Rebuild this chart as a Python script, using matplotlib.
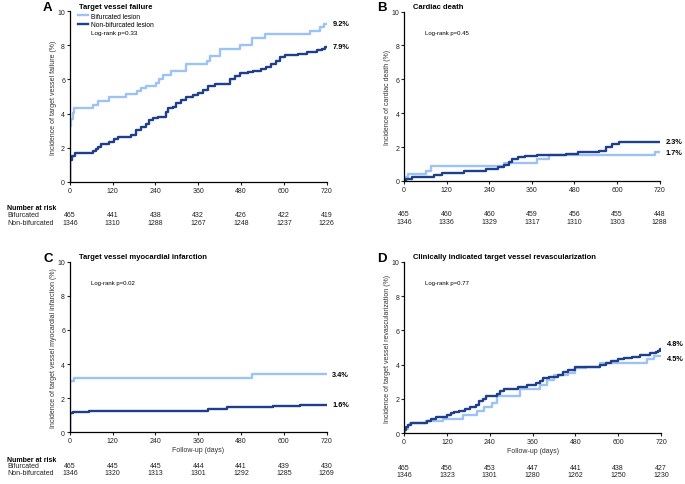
import numpy as np
import matplotlib.pyplot as plt

plt.rcParams['font.family'] = ['Liberation Sans', 'DejaVu Sans']

LIGHT = '#9cc3f5'
DARK = '#1f3f8a'

xticks = [0, 120, 240, 360, 480, 600, 720]

# panel A - target vessel failure
a_bif_t = [0, 0.5, 3, 8, 12, 64, 79, 109, 158, 188, 200, 214, 242, 251, 261, 284, 326, 383, 394, 420, 478, 511, 547, 673, 701, 711, 720]
a_bif_v = [0, 3.3, 3.7, 4.05, 4.3, 4.5, 4.75, 4.95, 5.15, 5.35, 5.5, 5.6, 5.8, 6.0, 6.25, 6.5, 6.9, 7.1, 7.35, 7.8, 8.0, 8.4, 8.65, 8.85, 9.05, 9.25, 9.25]
a_non_t = [0, 0.5, 7, 15, 64, 73, 78, 87, 111, 125, 134, 148, 172, 186, 200, 214, 223, 233, 247, 270, 275, 289, 298, 312, 326, 345, 359, 373, 387, 406, 448, 462, 476, 500, 514, 537, 551, 565, 579, 589, 603, 640, 664, 692, 706, 715, 720]
a_non_v = [0, 1.3, 1.5, 1.7, 1.8, 1.9, 2.05, 2.2, 2.35, 2.5, 2.6, 2.65, 2.75, 3.05, 3.2, 3.4, 3.6, 3.75, 3.8, 4.1, 4.3, 4.4, 4.6, 4.8, 4.95, 5.1, 5.2, 5.4, 5.6, 5.75, 6.0, 6.2, 6.4, 6.45, 6.5, 6.6, 6.75, 6.9, 7.1, 7.3, 7.45, 7.5, 7.6, 7.7, 7.8, 7.9, 7.9]

# panel B - cardiac death
b_bif_t = [0, 3, 12, 62, 75, 280, 374, 407, 708, 720]
b_bif_v = [0, 0.2, 0.4, 0.6, 0.85, 1.05, 1.3, 1.5, 1.7, 1.7]
b_non_t = [0, 5, 22, 83, 106, 170, 230, 265, 280, 295, 305, 320, 340, 375, 455, 490, 550, 570, 585, 605, 720]
b_non_v = [0, 0.1, 0.2, 0.35, 0.45, 0.6, 0.7, 0.8, 0.95, 1.1, 1.3, 1.4, 1.45, 1.55, 1.6, 1.7, 1.75, 2.0, 2.15, 2.3, 2.3]

# panel C - target vessel myocardial infarction
c_bif_t = [0, 0.5, 12, 510, 720]
c_bif_v = [0, 3.0, 3.2, 3.4, 3.4]
c_non_t = [0, 0.5, 10, 55, 388, 440, 570, 645, 720]
c_non_v = [0, 1.1, 1.2, 1.25, 1.35, 1.5, 1.55, 1.6, 1.6]

# panel D - clinically indicated target vessel revascularization
d_bif_t = [0, 3, 10, 15, 60, 110, 165, 205, 225, 245, 260, 325, 380, 400, 420, 460, 480, 510, 550, 600, 680, 700, 720]
d_bif_v = [0, 0.25, 0.45, 0.6, 0.7, 0.85, 1.05, 1.3, 1.5, 1.75, 2.15, 2.6, 2.8, 3.1, 3.4, 3.5, 3.8, 3.85, 4.1, 4.1, 4.3, 4.5, 4.5]
d_non_t = [0, 0.5, 5, 10, 20, 65, 75, 90, 120, 130, 140, 155, 170, 185, 200, 210, 220, 230, 260, 270, 280, 305, 320, 345, 370, 380, 390, 405, 430, 445, 460, 480, 550, 565, 580, 600, 615, 640, 660, 690, 705, 712, 718, 720]
d_non_v = [0, 0.2, 0.35, 0.5, 0.6, 0.7, 0.8, 0.95, 1.05, 1.15, 1.25, 1.3, 1.4, 1.55, 1.65, 1.85, 2.0, 2.15, 2.3, 2.45, 2.55, 2.6, 2.7, 2.8, 2.9, 3.05, 3.2, 3.25, 3.4, 3.55, 3.7, 3.85, 3.95, 4.1, 4.2, 4.3, 4.4, 4.45, 4.55, 4.65, 4.75, 4.8, 4.9, 4.9]

# numbers at risk
a_risk_bif = [465, 441, 438, 432, 426, 422, 419]
a_risk_non = [1346, 1310, 1288, 1267, 1248, 1237, 1226]
b_risk_bif = [465, 460, 460, 459, 456, 455, 448]
b_risk_non = [1346, 1336, 1329, 1317, 1310, 1303, 1288]
c_risk_bif = [465, 445, 445, 444, 441, 439, 430]
c_risk_non = [1346, 1320, 1313, 1301, 1292, 1285, 1269]
d_risk_bif = [465, 456, 453, 447, 441, 438, 427]
d_risk_non = [1346, 1323, 1301, 1280, 1262, 1250, 1230]

panels = [
    dict(letter='A', title='Target vessel failure', ylabel='Incidence of target vessel failure (%)',
         pval='Log-rank p=0.33', bif=(a_bif_t, a_bif_v), non=(a_non_t, a_non_v),
         risk=(a_risk_bif, a_risk_non), end=('9.2%', '7.9%'), off=(0, 0),
         pos=[0.102, 0.623, 0.375, 0.352], legend=True, xlabel=False, names=True),
    dict(letter='B', title='Cardiac death', ylabel='Incidence of cardiac death (%)',
         pval='Log-rank p=0.45', bif=(b_bif_t, b_bif_v), non=(b_non_t, b_non_v),
         risk=(b_risk_bif, b_risk_non), end=('1.7%', '2.3%'), off=(0, 0),
         pos=[0.590, 0.625, 0.373, 0.349], legend=False, xlabel=False, names=False),
    dict(letter='C', title='Target vessel myocardial infarction',
         ylabel='Incidence of target vessel myocardial infarction (%)',
         pval='Log-rank p=0.02', bif=(c_bif_t, c_bif_v), non=(c_non_t, c_non_v),
         risk=(c_risk_bif, c_risk_non), end=('3.4%', '1.6%'), off=(0, 0),
         pos=[0.102, 0.107, 0.375, 0.351], legend=False, xlabel=True, names=True),
    dict(letter='D', title='Clinically indicated target vessel revascularization',
         ylabel='Incidence of target vessel revascularization (%)',
         pval='Log-rank p=0.77', bif=(d_bif_t, d_bif_v), non=(d_non_t, d_non_v),
         risk=(d_risk_bif, d_risk_non), end=('4.5%', '4.8%'), off=(-2, 4),
         pos=[0.590, 0.105, 0.375, 0.353], legend=False, xlabel=True, names=False),
]

fig = plt.figure(figsize=(6.85, 4.85), dpi=100)

for p in panels:
    ax = fig.add_axes(p['pos'])
    ax.step(p['bif'][0], p['bif'][1], where='post', color=LIGHT, lw=1.7, label='Bifurcated lesion')
    ax.step(p['non'][0], p['non'][1], where='post', color=DARK, lw=1.7, label='Non-bifurcated lesion')
    ax.set_xlim(0, 720)
    ax.set_ylim(0, 10)
    ax.set_xticks(xticks)
    ax.set_yticks([0, 2, 4, 6, 8, 10])
    ax.tick_params(labelsize=5, length=2, width=0.8, pad=1.5, colors='#222222')
    for s in ['top', 'right']:
        ax.spines[s].set_visible(False)
    for s in ['left', 'bottom']:
        ax.spines[s].set_linewidth(0.9)
    ax.set_ylabel(p['ylabel'], fontsize=5, labelpad=0.5, color='#333333')
    if p['xlabel']:
        ax.set_xlabel('Follow-up (days)', fontsize=5, labelpad=1.5, color='#333333')

    ax.text(-0.086, 1.025, p['letter'], transform=ax.transAxes, fontsize=9.5, fontweight='bold', va='center', ha='center')
    ax.text(0.035, 1.03, p['title'], transform=ax.transAxes, fontsize=5.5, fontweight='bold', va='center')
    if p['legend']:
        ax.legend(loc='upper left', bbox_to_anchor=(0.03, 0.99), frameon=False, fontsize=4.8,
                  handlelength=1.5, labelspacing=0.22, borderaxespad=0.0, borderpad=0.0,
                  handletextpad=0.5)
        ax.text(0.082, 0.874, p['pval'], transform=ax.transAxes, fontsize=4.6, va='center')
    else:
        ax.text(0.082, 0.877, p['pval'], transform=ax.transAxes, fontsize=4.3, va='center')

    ax.annotate(p['end'][0], (720, p['bif'][1][-1]), xytext=(4, p['off'][0]), textcoords='offset points',
                fontsize=5.3, fontweight='bold', va='center', annotation_clip=False)
    ax.annotate(p['end'][1], (720, p['non'][1][-1]), xytext=(4, p['off'][1]), textcoords='offset points',
                fontsize=5.3, fontweight='bold', va='center', annotation_clip=False)

    trans = ax.get_xaxis_transform()
    if p['xlabel']:
        y0, y1, y2 = -0.158, -0.199, -0.240
    else:
        y0, y1, y2 = -0.152, -0.193, -0.240
    for x, nb, nn in zip(xticks, p['risk'][0], p['risk'][1]):
        ax.text(x, y1, str(nb), transform=trans, fontsize=5, ha='center', va='center', color='#222222')
        ax.text(x, y2, str(nn), transform=trans, fontsize=5, ha='center', va='center', color='#222222')
    if p['names']:
        ax.text(-0.245, y0, 'Number at risk', transform=ax.transAxes, fontsize=5, fontweight='bold', va='center')
        ax.text(-0.245, y1, 'Bifurcated', transform=ax.transAxes, fontsize=5, va='center', color='#222222')
        ax.text(-0.245, y2, 'Non-bifurcated', transform=ax.transAxes, fontsize=5, va='center', color='#222222')

fig.savefig('out.png', dpi=100)
